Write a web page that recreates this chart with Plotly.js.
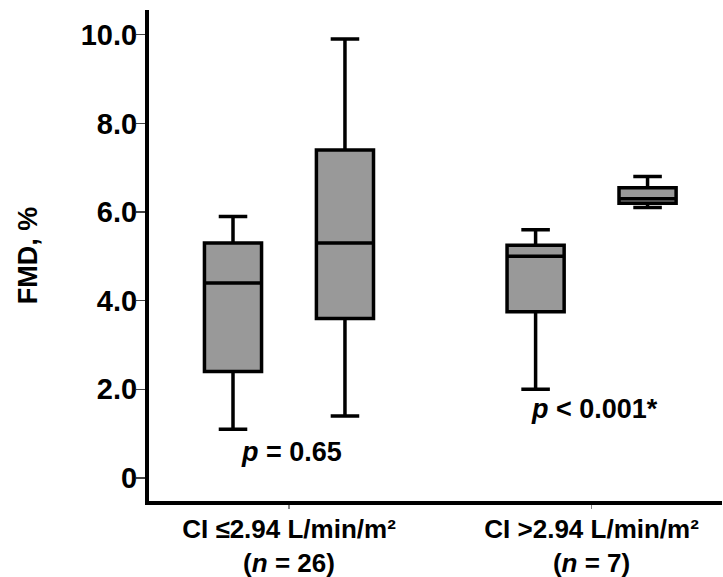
<!DOCTYPE html>
<html>
<head>
<meta charset="utf-8">
<script src="https://cdn.plot.ly/plotly-3.0.1.min.js"></script>
<style>
  html, body { margin: 0; padding: 0; background: #ffffff; }
  #chart { width: 723px; height: 577px; }
</style>
</head>
<body>
<div id="chart"></div>
<script>
// ---- Data ----
var categories = [
  'CI \u22642.94 L/min/m\u00B2<br>(<i>n</i> = 26)',
  'CI >2.94 L/min/m\u00B2<br>(<i>n</i> = 7)'
];
var seriesNames = ['Subgroup 1', 'Subgroup 2'];

// first box of each group
var s1Lower  = [1.1, 2.0];
var s1Q1     = [2.4, 3.75];
var s1Median = [4.4, 5.0];
var s1Q3     = [5.3, 5.25];
var s1Upper  = [5.9, 5.6];

// second box of each group
var s2Lower  = [1.4, 6.1];
var s2Q1     = [3.6, 6.2];
var s2Median = [5.3, 6.3];
var s2Q3     = [7.4, 6.55];
var s2Upper  = [9.9, 6.8];

var yTickVals = [0, 2, 4, 6, 8, 10];
var yTickText = ['0', '2.0', '4.0', '6.0', '8.0', '10.0'];

var pLabels = ['<i>p</i> = 0.65', '<i>p</i> < 0.001*'];
var pLabelY = [0.58, 1.55];

// ---- Styling ----
var FONT = 'Liberation Sans, Arial, Helvetica, sans-serif';

function boxTrace(name, lo, q1, med, q3, hi) {
  return {
    type: 'box',
    name: name,
    x: categories,
    lowerfence: lo,
    q1: q1,
    median: med,
    q3: q3,
    upperfence: hi,
    boxpoints: false,
    fillcolor: '#999999',
    line: { color: '#000000', width: 3.5 },
    whiskerwidth: 0.5,
    hoverinfo: 'y',
    showlegend: false
  };
}

var data = [
  boxTrace(seriesNames[0], s1Lower, s1Q1, s1Median, s1Q3, s1Upper),
  boxTrace(seriesNames[1], s2Lower, s2Q1, s2Median, s2Q3, s2Upper)
];

var annotations = categories.map(function (c, i) {
  return {
    x: i + 0.008, y: pLabelY[i], xref: 'x', yref: 'y',
    text: pLabels[i], showarrow: false,
    xanchor: 'center', yanchor: 'middle',
    font: { family: FONT, size: 27, color: '#000000', weight: 'bold' }
  };
});

var layout = {
  width: 723,
  height: 577,
  margin: { l: 149, r: 1, t: 10, b: 76, pad: 0 },
  paper_bgcolor: '#ffffff',
  plot_bgcolor: '#ffffff',
  boxmode: 'group',
  boxgap: 0.26,
  boxgroupgap: 0.49,
  showlegend: false,
  xaxis: {
    type: 'category',
    range: [-0.4626, 1.431],
    showline: true, linecolor: '#000000', linewidth: 4,
    showgrid: false, zeroline: false,
    ticks: 'outside', ticklen: 4, tickwidth: 1.5, tickcolor: '#888888',
    ticklabelstandoff: -2,
    tickfont: { family: FONT, size: 26, color: '#000000', weight: 'bold' },
    fixedrange: true
  },
  yaxis: {
    range: [-0.519, 10.557],
    showline: true, linecolor: '#000000', linewidth: 4,
    showgrid: false, zeroline: false,
    tickmode: 'array', tickvals: yTickVals, ticktext: yTickText,
    ticks: 'outside', ticklen: 9, tickwidth: 1.5, tickcolor: '#444444',
    ticklabelstandoff: -7,
    tickfont: { family: FONT, size: 29, color: '#000000', weight: 'bold' },
    title: {
      text: 'FMD, %',
      standoff: 36,
      font: { family: FONT, size: 27, color: '#000000', weight: 'bold' }
    },
    fixedrange: true
  },
  annotations: annotations
};

Plotly.newPlot('chart', data, layout, { displayModeBar: false, staticPlot: true });
</script>
</body>
</html>
